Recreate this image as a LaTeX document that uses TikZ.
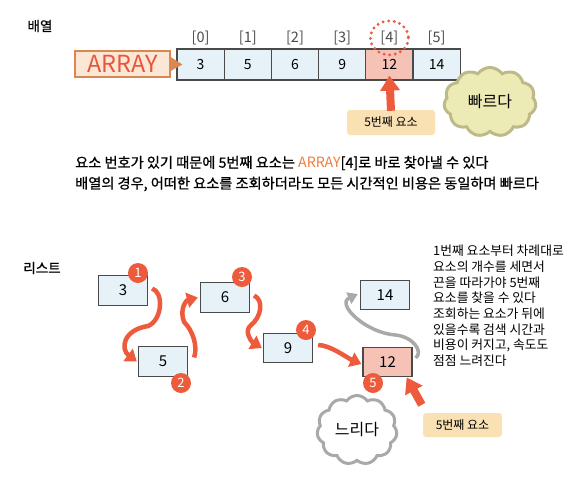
\documentclass[tikz,border=0pt]{standalone}
\usepackage{fontspec}
\setmainfont{Noto Sans CJK KR}
\newfontfamily\medfont{Noto Sans CJK KR}[FakeBold=0.9]
\usetikzlibrary{arrows.meta,positioning,calc,shapes.symbols}

\definecolor{cellblue}{HTML}{E6F2F7}
\definecolor{cellpink}{HTML}{F5C2B5}
\definecolor{hotred}{HTML}{EE5B3C}
\definecolor{tagfill}{HTML}{FCE7D6}
\definecolor{tagline}{HTML}{D98850}
\definecolor{tagtext}{HTML}{E9553A}
\definecolor{notefill}{HTML}{FAE1B3}
\definecolor{fastfill}{HTML}{EDEBB5}
\definecolor{fastline}{HTML}{BDBA88}
\definecolor{slowline}{HTML}{A9A9A9}
\definecolor{inkgray}{HTML}{4A4A4A}
\definecolor{bodyorange}{HTML}{F07A3A}

\begin{document}
\begin{tikzpicture}[x=1pt,y=-1pt,>=Stealth,
 cell/.style={draw=inkgray,line width=1.2pt,minimum width=47.2pt,
 minimum height=31pt,inner sep=0pt,font=\fontsize{14}{14}\selectfont},
 idx/.style={font=\fontsize{14.5}{14.5}\selectfont,text=inkgray},
 elem/.style={draw=inkgray,line width=1.3pt,fill=cellblue,minimum width=49pt,
 minimum height=29.5pt,inner sep=0pt,font=\fontsize{15}{15}\selectfont},
 badge/.style={circle,fill=hotred,text=white,minimum size=20pt,inner sep=0pt,
 font=\fontsize{13}{13}\selectfont},
 hop/.style={draw=hotred,line width=4.5pt,-{Triangle[width=15pt,length=11pt]}},
 back/.style={draw=slowline,line width=3.5pt,-{Triangle[width=12pt,length=10pt]}},
 pointer/.style={draw=hotred,line width=8pt,-{Triangle[width=19pt,length=15pt]}},
 note/.style={fill=notefill,rounded corners=3pt,minimum width=88pt,
 minimum height=25pt,font=\fontsize{12}{12}\selectfont},
 puff/.style={cloud,cloud puffs=11,cloud puff arc=110,line width=3pt,
 inner sep=0pt,font=\fontsize{16}{16}\selectfont},
 heading/.style={font=\medfont\fontsize{13.5}{13.5}\selectfont}]
\useasboundingbox (0,0) rectangle (583,477);

% headings
\node[heading] (h1) at (40,26) {배열};
\node[heading] (h2) at (42,268) {리스트};

% array
\foreach \v/\f [count=\i from 0] in {3/cellblue,5/cellblue,6/cellblue,9/cellblue,12/cellpink,14/cellblue}
{
 \node[cell,fill=\f] (c\i) at (200.6+47.2*\i,64.5) {\v};
 \node[idx,above=0pt of c\i] (i\i) {[\i]};
}
\node[draw=tagline,fill=tagfill,line width=1.3pt,minimum width=95pt,
 minimum height=26pt,inner sep=0pt,text=tagtext,
 font=\fontsize{23.5}{23.5}\selectfont] (tag) at (122.5,64) {ARRAY};
\fill[tagline] ($(tag.east)+(0,-7)$) -- ($(c0.west)+(6,0)$)
 -- ($(tag.east)+(0,7)$) -- cycle;
\draw[hotred,line width=3.2pt,line cap=round,dash pattern=on 0pt off 5.6pt]
 (i4) ellipse [x radius=19,y radius=17];

\node[note] (note1) at (391,122.5) {5번째 요소};
\draw[pointer] ($(note1.north)+(0,1)$) -- ($(c4.south)+(0,-5)$);
\node[puff,draw=fastline,fill=fastfill,minimum width=92pt,minimum height=66pt]
 (fast) at (490,102) {빠르다};

% explanation
\node[anchor=west,inner sep=0pt,font=\medfont\fontsize{14.2}{14.2}\selectfont] (line1)
 at (75,163) {요소 번호가 있기 때문에 5번째 요소는 \textcolor{bodyorange}{\normalfont ARRAY}[4]로 바로 찾아낼 수 있다};
\node[anchor=west,inner sep=0pt,font=\medfont\fontsize{14.2}{14.2}\selectfont] (line2)
 at (75,184) {배열의 경우, 어떠한 요소를 조회하더라도 모든 시간적인 비용은 동일하며 빠르다};

% list
\node[elem] (e3) at (123,290.5) {3};
\node[elem] (e5) at (163,361.5) {5};
\node[elem] (e6) at (225,297.5) {6};
\node[elem] (e9) at (288,348) {9};
\node[elem,fill=cellpink] (e12) at (387.5,362) {12};
\node[elem] (e14) at (385,295) {14};

\draw[hop] ($(e3.east)+(4,-2)$) .. controls +(12,4) and +(14,-6) .. ++(-4,37.5)
 .. controls +(-26,4) and +(-16,-12) .. ($(e5.west)+(-1,0)$);
\draw[hop] ($(e5.east)+(6,-4)$) .. controls +(4,-12) and +(8,8) .. ++(-10,-35.5)
 .. controls +(-5,-12) and +(-12,3) .. ($(e6.west)+(-2,0)$);
\draw[hop] ($(e6.east)+(4,-2)$) .. controls +(10,5) and +(10,-8) .. ++(-3,29.5)
 .. controls +(-8,6) and +(-10,-6) .. ($(e9.west)+(-1,0)$);
\draw[hop] ($(e9.east)+(5,-3)$) .. controls +(12,0) and +(-14,-6) .. ($(e12.west)+(-1,2)$);
\draw[back] ($(e12.east)+(3,-4)$) .. controls +(8,-6) and +(18,2) .. ++(-20,-23)
 .. controls +(-30,-2) and +(-22,10) .. ($(e14.west)+(-2,-1)$);

\node[badge] (b1) at (138,273) {1};
\node[badge] (b2) at (181,383) {2};
\node[badge] (b3) at (242,277) {3};
\node[badge] (b4) at (306,330) {4};
\node[badge] (b5) at (373,383) {5};

\node[anchor=north west,align=left,inner sep=0pt,
 font=\fontsize{12.8}{15.7}\selectfont] (story) at (433,245)
 {1번째 요소부터 차례대로\\요소의 개수를 세면서\\끈을 따라가야 5번째\\요소를 찾을 수 있다\\
 조회하는 요소가 뒤에\\있을수록 검색 시간과\\비용이 커지고, 속도도\\점점 느려진다};

\node[note,minimum width=79pt,minimum height=24pt] (note2) at (462.5,425) {5번째 요소};
\draw[pointer] ($(note2.north west)+(-1,-8)$) -- ($(e12.south east)+(-6,0)$);
\node[puff,draw=slowline,fill=white,minimum width=80pt,minimum height=58pt]
 (slow) at (357,430) {느리다};
\end{tikzpicture}
\end{document}
